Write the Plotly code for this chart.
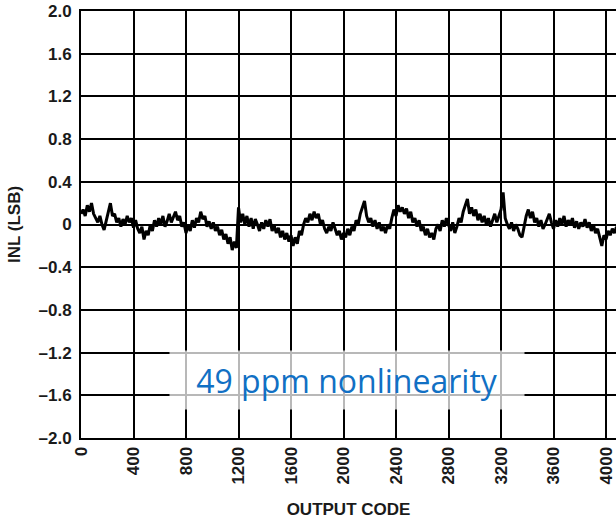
import plotly.graph_objects as go

inl = [
    0.10, 0.14, 0.08, 0.18, 0.12, 0.20, 0.10, 0.06, 0.02, 0.08, 0.00, -0.05, 0.04, 0.14, 0.20, 0.08,
    0.10, 0.02, 0.06, -0.02, 0.05, 0.00, 0.08, 0.02, 0.06, -0.03, 0.04, -0.04, -0.08, -0.02, -0.14, -0.06,
    -0.10, 0.00, -0.06, 0.04, -0.02, 0.06, 0.00, 0.08, -0.02, 0.03, 0.10, 0.02, 0.07, 0.12, 0.04, 0.08,
    -0.02, 0.02, -0.08, 0.00, -0.06, 0.04, -0.03, 0.06, 0.02, 0.12, 0.05, 0.08, -0.02, 0.03, -0.04, 0.02,
    -0.06, -0.02, -0.10, -0.05, -0.14, -0.09, -0.18, -0.12, -0.24, -0.16, -0.22, 0.16, 0.02, 0.10, 0.00, 0.08,
    -0.02, 0.06, -0.04, 0.05, 0.00, -0.06, 0.02, -0.04, 0.04, -0.02, 0.05, -0.06, -0.01, -0.08, -0.03, -0.12,
    -0.06, -0.14, -0.08, -0.16, -0.10, -0.20, -0.12, -0.18, -0.06, -0.10, 0.00, 0.06, 0.02, 0.10, 0.04, 0.12,
    0.06, 0.10, 0.00, 0.04, -0.04, -0.08, -0.02, -0.06, 0.02, -0.04, -0.10, -0.06, -0.14, -0.08, -0.12, -0.04,
    -0.10, -0.02, -0.06, 0.04, 0.00, 0.10, 0.16, 0.22, 0.08, 0.02, 0.06, -0.02, 0.04, -0.04, 0.02, -0.06,
    -0.02, -0.08, 0.00, -0.04, 0.06, 0.14, 0.08, 0.18, 0.12, 0.16, 0.10, 0.15, 0.06, 0.12, 0.02, 0.06,
    -0.02, 0.04, -0.06, -0.02, -0.10, -0.04, -0.12, -0.08, -0.14, -0.04, 0.00, -0.06, 0.04, -0.02, 0.06, 0.00,
    -0.06, 0.02, -0.08, -0.02, 0.06, 0.02, 0.12, 0.18, 0.24, 0.10, 0.16, 0.08, 0.14, 0.04, 0.10, 0.02,
    0.08, 0.00, 0.06, -0.02, 0.04, 0.10, 0.02, 0.08, 0.14, 0.30, 0.06, 0.00, -0.04, 0.02, -0.06, 0.00,
    -0.04, -0.10, -0.12, -0.02, 0.08, 0.14, 0.06, 0.12, 0.02, 0.06, -0.02, 0.04, -0.04, 0.00, 0.06, 0.10,
    0.02, -0.04, 0.04, -0.02, 0.06, 0.00, 0.08, -0.02, 0.04, 0.00, 0.06, -0.03, 0.03, -0.04, 0.02, -0.02,
    0.05, -0.03, 0.02, -0.06, 0.00, -0.08, -0.04, -0.12, -0.20, -0.10, -0.14, -0.06, -0.10, -0.04, -0.08, -0.02,
]
code_step = 16
codes = [i * code_step for i in range(len(inl))]

x_ticks = [0, 400, 800, 1200, 1600, 2000, 2400, 2800, 3200, 3600, 4000]
x_tick_labels = [str(v) for v in x_ticks]
y_ticks = [2.0, 1.6, 1.2, 0.8, 0.4, 0.0, -0.4, -0.8, -1.2, -1.6, -2.0]
y_tick_labels = ["2.0", "1.6", "1.2", "0.8", "0.4", "0", "–0.4", "–0.8", "–1.2", "–1.6", "–2.0"]

fig = go.Figure()
fig.add_trace(go.Scatter(x=codes, y=inl, mode="lines",
                         line=dict(color="black", width=3), showlegend=False))

tick_font = dict(family="Liberation Sans, Arial", size=17, color="#1a1a1a", weight="bold")
title_font = dict(family="Liberation Sans, Arial", size=17, color="#1a1a1a", weight="bold")

fig.update_layout(
    width=616, height=519,
    margin=dict(l=81, r=0, t=11, b=81),
    paper_bgcolor="white", plot_bgcolor="white",
    xaxis=dict(
        range=[0, 4076], tickvals=x_ticks, ticktext=x_tick_labels, tickangle=-90,
        showgrid=True, gridcolor="black", gridwidth=1.5, zeroline=False,
        showline=True, linecolor="black", linewidth=2, mirror=True,
        ticks="", tickfont=tick_font, automargin=False, ticklabeloverflow="allow",
        title=dict(text="OUTPUT CODE", font=title_font, standoff=20),
    ),
    yaxis=dict(
        range=[-2.0, 2.0], tickvals=y_ticks, ticktext=y_tick_labels,
        showgrid=True, gridcolor="black", gridwidth=1.5,
        zeroline=True, zerolinecolor="black", zerolinewidth=1.5,
        showline=True, linecolor="black", linewidth=2, mirror=False,
        ticks="", tickfont=tick_font, automargin=False, ticklabeloverflow="allow",
        ticklabelstandoff=4,
        title=dict(text="INL (LSB)", font=title_font, standoff=14),
    ),
    annotations=[dict(
        x=0.498, y=0.136, xref="paper", yref="paper",
        text="49 ppm nonlinearity", showarrow=False,
        font=dict(family="Open Sans, Lato", size=32, color="#1170C4"),
        bgcolor="rgba(255,255,255,0.72)", width=352, height=56,
        xanchor="center", yanchor="middle",
    )],
)

# remove the page's default body margin so the figure fills the window exactly
fig.write_html("out.html", config={"displayModeBar": False},
               post_script="document.body.style.margin='0';")
